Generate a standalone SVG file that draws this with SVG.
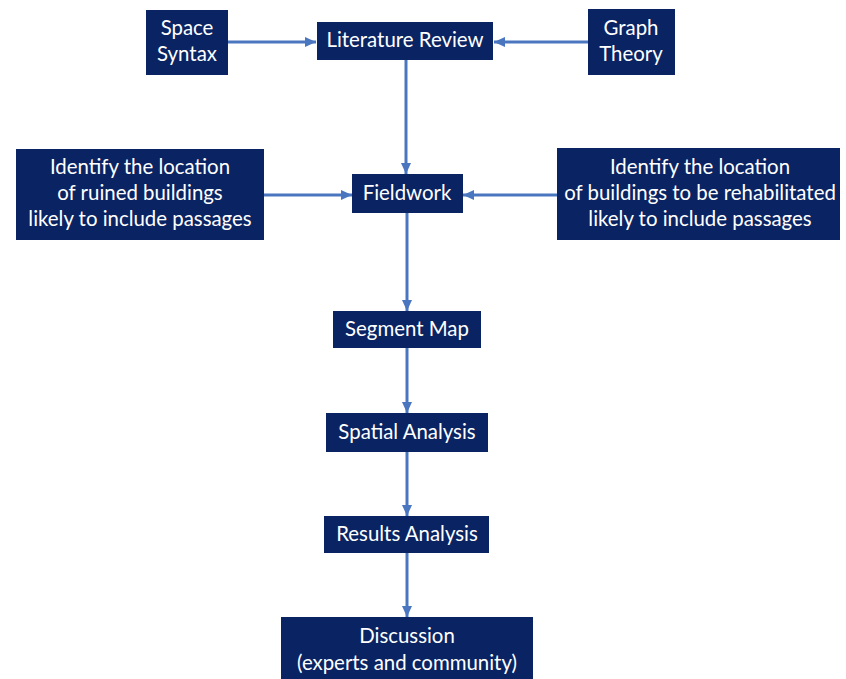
<svg xmlns="http://www.w3.org/2000/svg" width="846" height="679" viewBox="0 0 846 679">
<defs>
<marker id="ah" markerUnits="userSpaceOnUse" markerWidth="12" markerHeight="10" refX="11" refY="5" orient="auto">
<path d="M0,0 L11,5 L0,10 z" fill="#4A76C0"/>
</marker>
<style>
.box{fill:#0A2463;}
.t{fill:#FFFFFF;font-family:Lato,"Open Sans","Liberation Sans",sans-serif;font-size:20.4px;text-anchor:middle;}
.c{stroke:#4A76C0;stroke-width:3;fill:none;marker-end:url(#ah);}
</style>
</defs>
<rect width="846" height="679" fill="#FFFFFF"/>
<g id="connectors">
<line class="c" x1="228" y1="42" x2="316" y2="42"/>
<line class="c" x1="588" y1="42" x2="494" y2="42"/>
<line class="c" x1="406" y1="60" x2="406" y2="174"/>
<line class="c" x1="264" y1="195" x2="352" y2="195"/>
<line class="c" x1="557" y1="195" x2="463" y2="195"/>
<line class="c" x1="407" y1="213" x2="407" y2="311"/>
<line class="c" x1="407" y1="348" x2="407" y2="413"/>
<line class="c" x1="407" y1="452" x2="407" y2="516"/>
<line class="c" x1="407" y1="553" x2="407" y2="617"/>
</g>
<g id="space-syntax"><rect class="box" x="146" y="10" width="82" height="65"/>
<text class="t" x="187" y="35">Space</text><text class="t" x="187" y="61">Syntax</text></g>
<g id="literature-review"><rect class="box" x="317" y="22" width="176" height="38"/>
<text class="t" x="405" y="47">Literature Review</text></g>
<g id="graph-theory"><rect class="box" x="588" y="9" width="87" height="66"/>
<text class="t" x="631" y="35">Graph</text><text class="t" x="631" y="61">Theory</text></g>
<g id="ruined-buildings"><rect class="box" x="16" y="149" width="248" height="91"/>
<text class="t" x="140" y="174">Identify the location</text>
<text class="t" x="140" y="200">of ruined buildings</text>
<text class="t" x="140" y="226">likely to include passages</text></g>
<g id="fieldwork"><rect class="box" x="352" y="174" width="111" height="39"/>
<text class="t" x="407" y="200">Fieldwork</text></g>
<g id="rehab-buildings"><rect class="box" x="557" y="148" width="283" height="92"/>
<text class="t" x="700" y="174">Identify the location</text>
<text class="t" x="700" y="200">of buildings to be rehabilitated</text>
<text class="t" x="700" y="226">likely to include passages</text></g>
<g id="segment-map"><rect class="box" x="333" y="311" width="148" height="37"/>
<text class="t" x="407" y="336">Segment Map</text></g>
<g id="spatial-analysis"><rect class="box" x="326" y="413" width="162" height="39"/>
<text class="t" x="407" y="439">Spatial Analysis</text></g>
<g id="results-analysis"><rect class="box" x="324" y="516" width="165" height="37"/>
<text class="t" x="407" y="541">Results Analysis</text></g>
<g id="discussion"><rect class="box" x="281" y="617" width="252" height="62"/>
<text class="t" x="407" y="643">Discussion</text>
<text class="t" x="407" y="670">(experts and community)</text></g>
</svg>
